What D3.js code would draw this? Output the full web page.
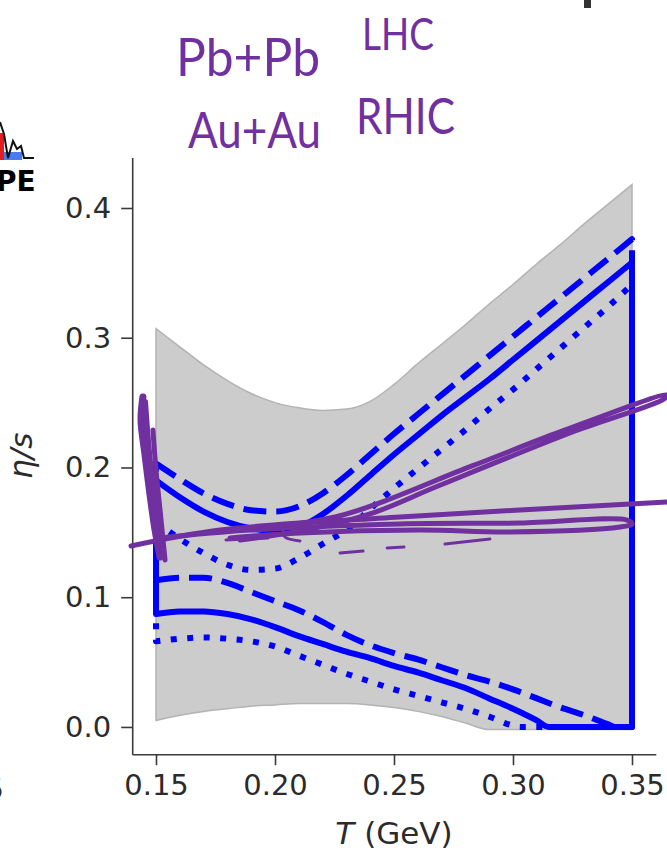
<!DOCTYPE html>
<html>
<head>
<meta charset="utf-8">
<script src="https://cdn.jsdelivr.net/npm/d3@7"></script>
<style>
  html, body { margin: 0; padding: 0; background: #ffffff; }
  svg { display: block; }
</style>
</head>
<body>
<svg id="chart" width="667" height="853"></svg>
<script>
// ---------------- DATA ----------------
const xTicks = [0.15, 0.20, 0.25, 0.30, 0.35];
const yTicks = [0.0, 0.1, 0.2, 0.3, 0.4];
const xLabelMain = "T";
const xLabelUnit = " (GeV)";
const yLabel = "η/s";

// temperature grid (GeV)
const T = [0.15,0.16,0.17,0.18,0.19,0.20,0.21,0.22,0.23,0.24,0.25,0.26,0.27,0.28,0.29,0.30,0.31,0.32,0.33,0.34,0.35];

// grey prior / credible band
const bandHi = [0.307,0.293,0.279,0.267,0.257,0.250,0.246,0.244,0.245,0.251,0.264,0.280,0.295,0.310,0.326,0.341,0.357,0.372,0.388,0.403,0.418];
const bandLo = [0.005,0.009,0.012,0.014,0.016,0.017,0.018,0.018,0.018,0.017,0.015,0.012,0.008,0.003,-0.002,-0.002,-0.002,-0.002,-0.002,-0.002,-0.002];

// upper edges of the blue contours
const solidHi  = [0.190,0.177,0.166,0.158,0.153,0.151,0.154,0.164,0.178,0.194,0.210,0.225,0.240,0.254,0.268,0.283,0.298,0.313,0.328,0.343,0.358];
const dashedHi = [0.203,0.191,0.180,0.172,0.167,0.166,0.170,0.180,0.194,0.210,0.226,0.241,0.256,0.271,0.286,0.301,0.316,0.331,0.346,0.361,0.376];
const dottedHi = [0.158,0.145,0.134,0.125,0.121,0.122,0.130,0.141,0.152,0.168,0.184,0.199,0.214,0.229,0.245,0.260,0.276,0.292,0.308,0.324,0.341];

// lower edges of the blue contours
const solidLoT  = [0.15,0.16,0.17,0.18,0.19,0.20,0.21,0.22,0.23,0.24,0.25,0.26,0.27,0.28,0.29,0.30,0.31,0.315,0.32,0.33,0.34,0.35];
const solidLo   = [0.087,0.089,0.089,0.087,0.083,0.077,0.070,0.064,0.058,0.053,0.047,0.042,0.036,0.030,0.022,0.014,0.005,0.000,0.000,0.000,0.000,0.000];
const dashedLoT = [0.15,0.16,0.17,0.18,0.19,0.20,0.21,0.22,0.23,0.24,0.25,0.26,0.27,0.28,0.29,0.30,0.31,0.32,0.33,0.34,0.343,0.35];
const dashedLo  = [0.113,0.115,0.115,0.111,0.104,0.097,0.090,0.081,0.071,0.063,0.057,0.052,0.046,0.040,0.035,0.029,0.022,0.015,0.009,0.002,0.000,0.000];
const dottedLoT = [0.15,0.16,0.17,0.18,0.19,0.20,0.21,0.22,0.23,0.24,0.25,0.26,0.27,0.28,0.29,0.30,0.303,0.31,0.32,0.33,0.34,0.35];
const dottedLo  = [0.066,0.068,0.069,0.068,0.066,0.062,0.055,0.048,0.041,0.035,0.029,0.024,0.019,0.014,0.008,0.001,0.000,0.000,0.000,0.000,0.000,0.000];

// hand-drawn annotation strokes, in data units [T, eta/s]
const scribbleVert1 = [[0.1445,0.2543],[0.1437,0.2366],[0.1454,0.2096],[0.1475,0.1788],[0.1496,0.1518],[0.1517,0.1310]];
const scribbleVert2 = [[0.1454,0.2505],[0.1466,0.2212],[0.1483,0.1904],[0.1508,0.1595],[0.1529,0.1364]];
const scribbleVert3 = [[0.1487,0.2289],[0.1500,0.1981],[0.1517,0.1672],[0.1538,0.1287]];
const scribbleLong  = [[0.1395,0.1395],[0.1769,0.1518],[0.2525,0.1618],[0.3647,0.1734]];
const scribbleFlatLoop = [[0.1517,0.1457],[0.1895,0.1518],[0.2525,0.1565],[0.3029,0.1572],[0.3479,0.1595],[0.3500,0.1565],[0.3450,0.1541],[0.2987,0.1503],[0.2609,0.1518],[0.2105,0.1495],[0.1811,0.1457]];
const scribbleNarrowLoop = [[0.1811,0.1518],[0.2252,0.1618],[0.2828,0.2012],[0.3197,0.2274],[0.3647,0.2559],[0.3634,0.2528],[0.3261,0.2281],[0.2685,0.1857],[0.2399,0.1642],[0.2109,0.1511],[0.1853,0.1441]];
const scribbleDashes = [
  [[0.1794,0.1441],[0.1971,0.1457]],
  [[0.2034,0.1526],[0.2042,0.1464],[0.2105,0.1434]],
  [[0.2273,0.1341],[0.2370,0.1356]],
  [[0.2471,0.1380],[0.2542,0.1387]],
  [[0.2714,0.1410],[0.2903,0.1449]]
];
const noteLines = ["Pb+Pb", "LHC", "Au+Au", "RHIC"];

// ---------------- CHART ----------------
const svg = d3.select("#chart");
const x = d3.scaleLinear().domain([0.14, 0.36]).range([132.2, 655.8]);
const y = d3.scaleLinear().domain([-0.021, 0.439]).range([754.2, 157.4]);

const axisColor = "#3a3a3a";
const textColor = "#2b2b2b";
const blue = "#0000ff";
const purple = "#7030a0";

// grey band
const area = d3.area()
  .x((d, i) => x(T[i]))
  .y0((d, i) => y(bandLo[i]))
  .y1((d, i) => y(bandHi[i]))
  .curve(d3.curveMonotoneX);
svg.append("path")
  .attr("d", area(T))
  .attr("fill", "#cccccc")
  .attr("stroke", "#b3b3b3")
  .attr("stroke-width", 1.5);

// closed contour paths
const lineGen = d3.line().x(d => x(d[0])).y(d => y(d[1])).curve(d3.curveMonotoneX);
function closedPath(tu, vu, tl, vl) {
  const up = tu.map((t, i) => [t, vu[i]]);
  const lo = tl.map((t, i) => [t, vl[i]]).reverse();
  return lineGen(up) + lineGen(lo).replace(/^M/, "L") + "Z";
}
const contours = [
  { d: closedPath(T, dottedHi, dottedLoT, dottedLo), dash: "6,10.5" },
  { d: closedPath(T, dashedHi, dashedLoT, dashedLo), dash: "23,10" },
  { d: closedPath(T, solidHi, solidLoT, solidLo), dash: null }
];
svg.append("g").selectAll("path").data(contours).join("path")
  .attr("d", c => c.d)
  .attr("fill", "none")
  .attr("stroke", blue)
  .attr("stroke-width", 6)
  .attr("stroke-linejoin", "round")
  .attr("stroke-linecap", "butt")
  .attr("stroke-dasharray", c => c.dash);

// axes
const xAxis = d3.axisBottom(x).tickValues(xTicks).tickFormat(d3.format(".2f")).tickSizeOuter(0).tickSizeInner(11).tickPadding(9);
const yAxis = d3.axisLeft(y).tickValues(yTicks).tickFormat(d3.format(".1f")).tickSizeOuter(0).tickSizeInner(11).tickPadding(10);

const gx = svg.append("g").attr("transform", `translate(0,${y.range()[0]})`).call(xAxis);
const gy = svg.append("g").attr("transform", `translate(${x.range()[0]},0)`).call(yAxis);
[gx, gy].forEach(g => {
  g.select(".domain").attr("stroke", axisColor).attr("stroke-width", 1.6);
  g.selectAll(".tick line").attr("stroke", axisColor).attr("stroke-width", 1.6);
  g.selectAll(".tick text")
    .attr("fill", textColor)
    .style("font-family", "'DejaVu Sans', sans-serif")
    .style("font-size", "29px");
});

// axis labels
const xl = svg.append("text")
  .attr("x", (x.range()[0] + x.range()[1]) / 2)
  .attr("y", 844)
  .attr("text-anchor", "middle")
  .attr("fill", textColor)
  .style("font-family", "'DejaVu Sans', sans-serif")
  .style("font-size", "31px");
xl.append("tspan").style("font-style", "italic").text(xLabelMain);
xl.append("tspan").text(xLabelUnit);

svg.append("text")
  .attr("transform", `translate(32,${(y.range()[0] + y.range()[1]) / 2}) rotate(-90)`)
  .attr("text-anchor", "middle")
  .attr("fill", textColor)
  .style("font-family", "'DejaVu Sans', sans-serif")
  .style("font-style", "italic")
  .style("font-size", "31px")
  .text(yLabel);

// neighbouring panel remnants (cropped at the picture's edge, as in the source)
svg.append("text")
  .attr("x", 4).attr("y", 799)
  .attr("text-anchor", "end")
  .attr("fill", textColor)
  .style("font-family", "'DejaVu Sans', sans-serif")
  .style("font-size", "29px")
  .text("0.35");
const logo = svg.append("g");
logo.append("rect").attr("x", 0).attr("y", 133).attr("width", 4).attr("height", 27).attr("fill", "#e02020");
logo.append("rect").attr("x", 4).attr("y", 152).attr("width", 18).attr("height", 8).attr("fill", "#4a7bf0");
logo.append("path")
  .attr("d", "M0,122 L4,134 L8,158 L13,141 L17,149 L21,146 L24,158 L34,158")
  .attr("fill", "none").attr("stroke", "#111").attr("stroke-width", 2);
logo.append("text").attr("x", -4).attr("y", 191)
  .attr("fill", "#000")
  .style("font-family", "'DejaVu Sans', sans-serif")
  .style("font-weight", "bold").style("font-size", "28px")
  .text("PE");
svg.append("rect").attr("x", 584).attr("y", 0).attr("width", 7).attr("height", 8).attr("fill", "#333");

// hand-drawn annotations
const scrib = d3.line().x(d => x(d[0])).y(d => y(d[1])).curve(d3.curveCatmullRom.alpha(0.5));
const thick = [
  { p: scribbleVert1, w: 7 }, { p: scribbleVert2, w: 6 }, { p: scribbleVert3, w: 5 },
  { p: scribbleLong, w: 5 }, { p: scribbleFlatLoop, w: 5 }, { p: scribbleNarrowLoop, w: 5 }
];
svg.append("g").selectAll("path").data(thick).join("path")
  .attr("d", d => scrib(d.p))
  .attr("fill", "none")
  .attr("stroke", purple)
  .attr("stroke-width", d => d.w)
  .attr("stroke-linecap", "round")
  .attr("stroke-linejoin", "round");
svg.append("g").selectAll("path").data(scribbleDashes).join("path")
  .attr("d", scrib)
  .attr("fill", "none")
  .attr("stroke", purple)
  .attr("stroke-width", 3)
  .attr("stroke-linecap", "round");

// handwritten note
const notes = [
  { t: noteLines[0], x: 176, y: 76, w: 144, s: 52 },
  { t: noteLines[1], x: 362, y: 50, w: 72, s: 44 },
  { t: noteLines[2], x: 188, y: 148, w: 133, s: 50 },
  { t: noteLines[3], x: 356, y: 134, w: 99, s: 50 }
];
svg.append("g").selectAll("text").data(notes).join("text")
  .attr("x", d => d.x).attr("y", d => d.y)
  .attr("textLength", d => d.w)
  .attr("lengthAdjust", "spacingAndGlyphs")
  .attr("fill", purple)
  .style("font-family", "Lato, 'Noto Sans', sans-serif")
  .style("font-weight", "400")
  .style("font-size", d => d.s + "px")
  .text(d => d.t);
</script>
</body>
</html>
